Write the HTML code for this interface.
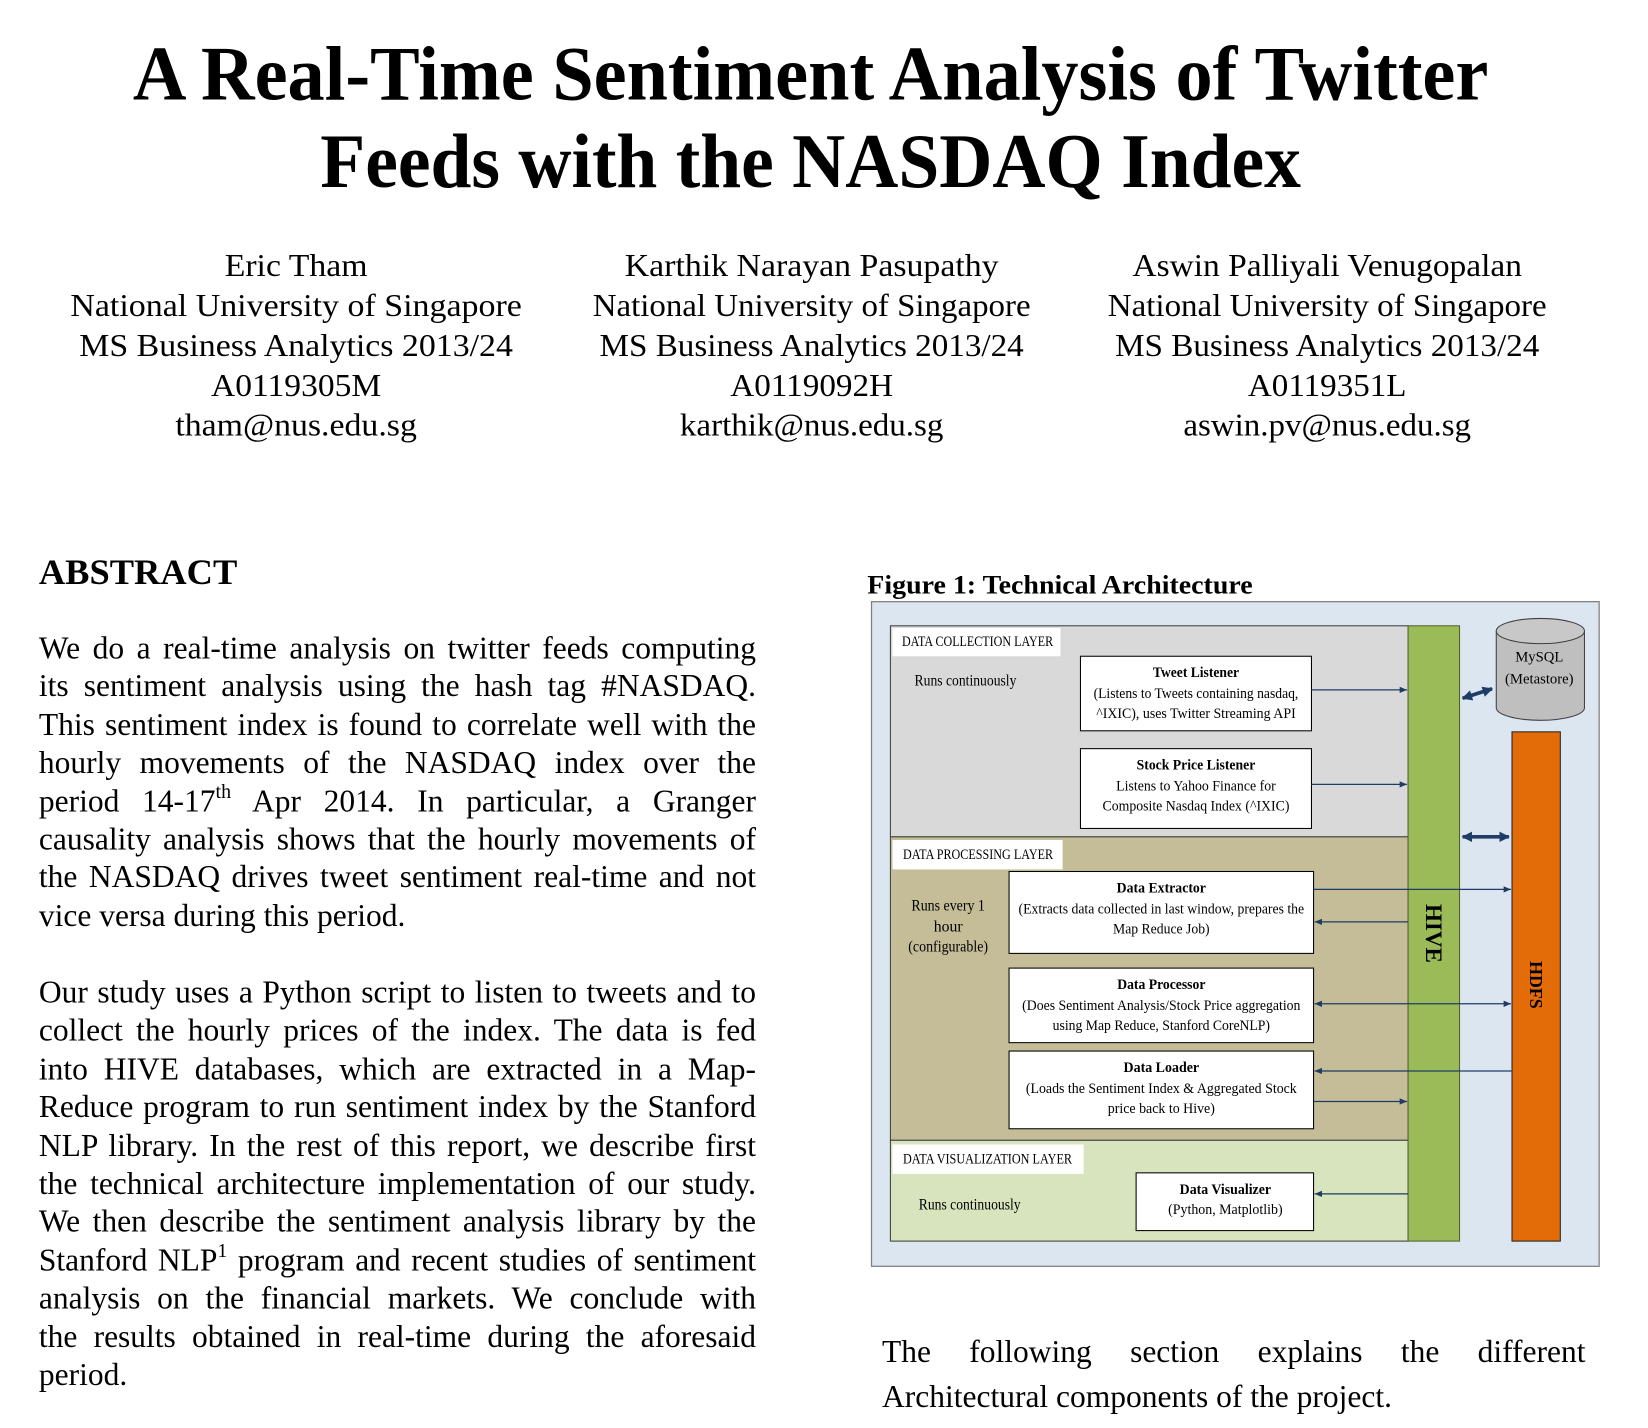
<!DOCTYPE html>
<html><head><meta charset="utf-8"><style>
html,body{margin:0;padding:0;background:#fff;width:1648px;height:1428px;overflow:hidden}
svg{display:block}
text{font-family:"Liberation Serif",serif;fill:#000}
.para{font-family:"Liberation Serif",serif;font-size:30px;line-height:36.4px;color:#000;margin:0}
.para div{text-align:justify;text-align-last:justify;white-space:nowrap;height:36.4px}
.para div.l{text-align-last:left}
.para sup{font-size:19px;line-height:0;vertical-align:13px}
</style></head><body>
<svg width="1648" height="1428" viewBox="0 0 1569.5 1360" xmlns="http://www.w3.org/2000/svg">
<defs>
<marker id="ah" markerWidth="8" markerHeight="8" refX="7" refY="3" orient="auto-start-reverse" markerUnits="userSpaceOnUse"><path d="M0,0 L7,3 L0,6 z" fill="#1f3c64"/></marker>
<marker id="ahb" markerWidth="12" markerHeight="12" refX="9" refY="5" orient="auto-start-reverse" markerUnits="userSpaceOnUse"><path d="M0,0 L10,5 L0,10 z" fill="#1f3c64"/></marker>
</defs>
<g font-weight="bold" font-size="74" text-anchor="middle">
<text x="772" y="95" textLength="1291" lengthAdjust="spacingAndGlyphs">A Real-Time Sentiment Analysis of Twitter</text>
<text x="772" y="178" textLength="934" lengthAdjust="spacingAndGlyphs">Feeds with the NASDAQ Index</text>
</g>
<g font-size="30" text-anchor="middle">
<text x="282" y="263" textLength="136" lengthAdjust="spacingAndGlyphs">Eric Tham</text>
<text x="282" y="301" textLength="430" lengthAdjust="spacingAndGlyphs">National University of Singapore</text>
<text x="282" y="339" textLength="413" lengthAdjust="spacingAndGlyphs">MS Business Analytics 2013/24</text>
<text x="282" y="377" textLength="162" lengthAdjust="spacingAndGlyphs">A0119305M</text>
<text x="282" y="415" textLength="230" lengthAdjust="spacingAndGlyphs">tham@nus.edu.sg</text>
</g>
<g font-size="30" text-anchor="middle">
<text x="773" y="263" textLength="356" lengthAdjust="spacingAndGlyphs">Karthik Narayan Pasupathy</text>
<text x="773" y="301" textLength="417" lengthAdjust="spacingAndGlyphs">National University of Singapore</text>
<text x="773" y="339" textLength="404" lengthAdjust="spacingAndGlyphs">MS Business Analytics 2013/24</text>
<text x="773" y="377" textLength="155" lengthAdjust="spacingAndGlyphs">A0119092H</text>
<text x="773" y="415" textLength="251" lengthAdjust="spacingAndGlyphs">karthik@nus.edu.sg</text>
</g>
<g font-size="30" text-anchor="middle">
<text x="1264" y="263" textLength="371" lengthAdjust="spacingAndGlyphs">Aswin Palliyali Venugopalan</text>
<text x="1264" y="301" textLength="418" lengthAdjust="spacingAndGlyphs">National University of Singapore</text>
<text x="1264" y="339" textLength="404" lengthAdjust="spacingAndGlyphs">MS Business Analytics 2013/24</text>
<text x="1264" y="377" textLength="151" lengthAdjust="spacingAndGlyphs">A0119351L</text>
<text x="1264" y="415" textLength="274" lengthAdjust="spacingAndGlyphs">aswin.pv@nus.edu.sg</text>
</g>
<text x="37" y="556" font-size="34" font-weight="bold" textLength="189" lengthAdjust="spacingAndGlyphs">ABSTRACT</text>
<foreignObject x="37" y="600" width="683" height="300">
<div xmlns="http://www.w3.org/1999/xhtml" class="para">
<div>We do a real-time analysis on twitter feeds computing</div>
<div>its sentiment analysis using the hash tag #NASDAQ.</div>
<div>This sentiment index is found to correlate well with the</div>
<div>hourly movements of the NASDAQ index over the</div>
<div>period 14-17<sup>th</sup> Apr 2014. In particular, a Granger</div>
<div>causality analysis shows that the hourly movements of</div>
<div>the NASDAQ drives tweet sentiment real-time and not</div>
<div class="l">vice versa during this period.</div>
</div>
</foreignObject>
<foreignObject x="37" y="928" width="683" height="420">
<div xmlns="http://www.w3.org/1999/xhtml" class="para">
<div>Our study uses a Python script to listen to tweets and to</div>
<div>collect the hourly prices of the index. The data is fed</div>
<div>into HIVE databases, which are extracted in a Map-</div>
<div>Reduce program to run sentiment index by the Stanford</div>
<div>NLP library. In the rest of this report, we describe first</div>
<div>the technical architecture implementation of our study.</div>
<div>We then describe the sentiment analysis library by the</div>
<div>Stanford NLP<sup>1</sup> program and recent studies of sentiment</div>
<div>analysis on the financial markets. We conclude with</div>
<div>the results obtained in real-time during the aforesaid</div>
<div class="l">period.</div>
</div>
</foreignObject>
<text x="826" y="565" font-size="25" font-weight="bold" textLength="367" lengthAdjust="spacingAndGlyphs">Figure 1: Technical Architecture</text>
<g>
<rect x="830" y="573" width="693" height="633" fill="#dce6f1" stroke="#7f7f7f" stroke-width="1.2"/>
<rect x="848" y="596" width="493" height="201" fill="#d9d9d9" stroke="#404040" stroke-width="1"/>
<rect x="848" y="797" width="493" height="289" fill="#c4bd97" stroke="#404040" stroke-width="1"/>
<rect x="848" y="1086" width="493" height="96" fill="#d7e4bd" stroke="#404040" stroke-width="1"/>
<rect x="850" y="598" width="160" height="27" fill="#fff"/>
<text x="859" y="615" font-size="14" textLength="144" lengthAdjust="spacingAndGlyphs">DATA COLLECTION LAYER</text>
<rect x="850" y="800" width="162" height="28" fill="#fff"/>
<text x="860" y="818" font-size="14" textLength="143" lengthAdjust="spacingAndGlyphs">DATA PROCESSING LAYER</text>
<rect x="850" y="1090" width="182" height="28" fill="#fff"/>
<text x="860" y="1108" font-size="14" textLength="161" lengthAdjust="spacingAndGlyphs">DATA VISUALIZATION LAYER</text>
<text x="871" y="653" font-size="15" textLength="97" lengthAdjust="spacingAndGlyphs">Runs continuously</text>
<g font-size="15" text-anchor="middle"><text x="903" y="867" textLength="70" lengthAdjust="spacingAndGlyphs">Runs every 1</text><text x="903" y="887">hour</text><text x="903" y="906" textLength="76" lengthAdjust="spacingAndGlyphs">(configurable)</text></g>
<text x="875" y="1152" font-size="15" textLength="97" lengthAdjust="spacingAndGlyphs">Runs continuously</text>
<rect x="1341" y="596" width="49" height="586" fill="#9bbb59" stroke="#4f6228" stroke-width="1"/>
<text x="1366" y="889" font-size="22" font-weight="bold" text-anchor="middle" transform="rotate(90 1366 889)" dy="8">HIVE</text>
<rect x="1440" y="697" width="46" height="485" fill="#e36c09" stroke="#222" stroke-width="1"/>
<text x="1463" y="938" font-size="17" font-weight="bold" text-anchor="middle" transform="rotate(90 1463 938)" dy="6">HDFS</text>
<g>
<path d="M1425,601 L1425,674 A42,12 0 0 0 1509,674 L1509,601" fill="#bfbfbf" stroke="#404040" stroke-width="1"/>
<ellipse cx="1467" cy="601" rx="42" ry="12" fill="#c8c8c8" stroke="#404040" stroke-width="1"/>
<text x="1466" y="630" font-size="14" text-anchor="middle">MySQL</text>
<text x="1466" y="651" font-size="14" text-anchor="middle">(Metastore)</text>
</g>
<g fill="#fff" stroke="#000" stroke-width="1">
<rect x="1029" y="625" width="220" height="71"/>
<rect x="1029" y="713" width="220" height="76"/>
<rect x="961" y="830" width="290" height="78"/>
<rect x="961" y="922" width="290" height="71"/>
<rect x="961" y="1001" width="290" height="74"/>
<rect x="1082" y="1117" width="169" height="55"/>
</g>
<g font-size="14" text-anchor="middle">
<text x="1139" y="645" font-weight="bold" textLength="82" lengthAdjust="spacingAndGlyphs">Tweet Listener</text>
<text x="1139" y="665" textLength="195" lengthAdjust="spacingAndGlyphs">(Listens to Tweets containing nasdaq,</text>
<text x="1139" y="684" textLength="190" lengthAdjust="spacingAndGlyphs">^IXIC), uses Twitter Streaming API</text>
<text x="1139" y="733" font-weight="bold" textLength="113" lengthAdjust="spacingAndGlyphs">Stock Price Listener</text>
<text x="1139" y="753" textLength="152" lengthAdjust="spacingAndGlyphs">Listens to Yahoo Finance for</text>
<text x="1139" y="772" textLength="178" lengthAdjust="spacingAndGlyphs">Composite Nasdaq Index (^IXIC)</text>
<text x="1106" y="850" font-weight="bold" textLength="85" lengthAdjust="spacingAndGlyphs">Data Extractor</text>
<text x="1106" y="870" textLength="272" lengthAdjust="spacingAndGlyphs">(Extracts data collected in last window, prepares the</text>
<text x="1106" y="889" textLength="92" lengthAdjust="spacingAndGlyphs">Map Reduce Job)</text>
<text x="1106" y="942" font-weight="bold" textLength="84" lengthAdjust="spacingAndGlyphs">Data Processor</text>
<text x="1106" y="962" textLength="265" lengthAdjust="spacingAndGlyphs">(Does Sentiment Analysis/Stock Price aggregation</text>
<text x="1106" y="981" textLength="207" lengthAdjust="spacingAndGlyphs">using Map Reduce, Stanford CoreNLP)</text>
<text x="1106" y="1021" font-weight="bold" textLength="72" lengthAdjust="spacingAndGlyphs">Data Loader</text>
<text x="1106" y="1041" textLength="258" lengthAdjust="spacingAndGlyphs">(Loads the Sentiment Index &amp; Aggregated Stock</text>
<text x="1106" y="1060" textLength="102" lengthAdjust="spacingAndGlyphs">price back to Hive)</text>
<text x="1167" y="1137" font-weight="bold" textLength="87" lengthAdjust="spacingAndGlyphs">Data Visualizer</text>
<text x="1167" y="1156" textLength="109" lengthAdjust="spacingAndGlyphs">(Python, Matplotlib)</text>
</g>
<g stroke="#1f3c64" stroke-width="1.2" fill="none">
<line x1="1249" y1="657" x2="1340" y2="657" marker-end="url(#ah)"/>
<line x1="1249" y1="747" x2="1340" y2="747" marker-end="url(#ah)"/>
<line x1="1251" y1="847" x2="1439" y2="847" marker-end="url(#ah)"/>
<line x1="1341" y1="878" x2="1252" y2="878" marker-end="url(#ah)"/>
<line x1="1252" y1="956" x2="1439" y2="956" marker-start="url(#ah)" marker-end="url(#ah)"/>
<line x1="1440" y1="1020" x2="1252" y2="1020" marker-end="url(#ah)"/>
<line x1="1251" y1="1049" x2="1340" y2="1049" marker-end="url(#ah)"/>
<line x1="1341" y1="1137" x2="1252" y2="1137" marker-end="url(#ah)"/>
</g>
<g stroke="#1f3c64" stroke-width="3.5" fill="none">
<line x1="1393" y1="665" x2="1421" y2="656" marker-start="url(#ahb)" marker-end="url(#ahb)"/>
<line x1="1393" y1="797" x2="1437" y2="797" marker-start="url(#ahb)" marker-end="url(#ahb)"/>
</g>
</g>
<foreignObject x="840" y="1266" width="670" height="90">
<div xmlns="http://www.w3.org/1999/xhtml" class="para" style="line-height:43px">
<div style="height:43px">The following section explains the different</div>
<div class="l" style="height:43px">Architectural components of the project.</div>
</div>
</foreignObject>
</svg>
</body></html>
